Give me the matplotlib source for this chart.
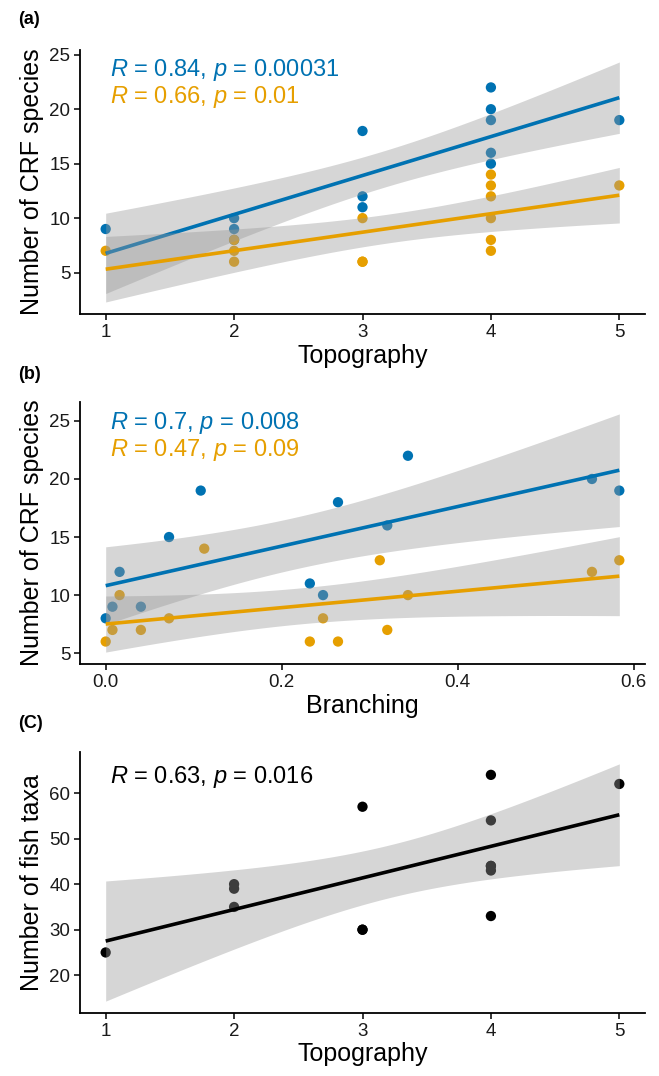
import numpy as np
import matplotlib
matplotlib.use("Agg")
import matplotlib.pyplot as plt

plt.rcParams['font.family'] = ['Liberation Sans', 'DejaVu Sans']
plt.rcParams['mathtext.fontset'] = 'custom'
plt.rcParams['mathtext.rm'] = 'Liberation Sans'
plt.rcParams['mathtext.it'] = 'Liberation Sans:italic'

# ---------------- data ----------------
# Panel (a): CRF species vs topography
topo_blue = [1, 2, 2, 2, 3, 3, 3, 4, 4, 4, 4, 4, 5]
crf_blue_topo = [9, 10, 9, 8, 18, 12, 11, 22, 20, 19, 16, 15, 19]
topo_orange = [1, 2, 2, 2, 3, 3, 3, 4, 4, 4, 4, 4, 4, 5]
crf_orange_topo = [7, 8, 7, 6, 10, 6, 6, 14, 13, 12, 10, 8, 7, 13]

# Panel (b): CRF species vs branching
branch_blue = [0.0, 0.0077, 0.0158, 0.040, 0.072, 0.108, 0.232, 0.247, 0.264,
               0.320, 0.3435, 0.5526, 0.5837]
crf_blue_branch = [8, 9, 12, 9, 15, 19, 11, 10, 18, 16, 22, 20, 19]
branch_orange = [0.0, 0.0077, 0.0158, 0.040, 0.072, 0.112, 0.232, 0.247, 0.264,
                 0.3115, 0.320, 0.3435, 0.5526, 0.5837]
crf_orange_branch = [6, 7, 10, 7, 8, 14, 6, 8, 6, 13, 7, 10, 12, 13]

# Panel (c): fish taxa vs topography
topo_fish = [1, 2, 2, 2, 3, 3, 3, 4, 4, 4, 4, 4, 4, 5]
fish_taxa = [25, 40, 39, 35, 57, 30, 30, 64, 54, 44, 44, 43, 33, 62]

labels_a = [r'$\it{R}$ = 0.84, $\it{p}$ = 0.00031', r'$\it{R}$ = 0.66, $\it{p}$ = 0.01']
labels_b = [r'$\it{R}$ = 0.7, $\it{p}$ = 0.008', r'$\it{R}$ = 0.47, $\it{p}$ = 0.09']
labels_c = [r'$\it{R}$ = 0.63, $\it{p}$ = 0.016']

BLUE = '#0072B2'
ORANGE = '#E69F00'
BLACK = '#000000'

T975 = {10: 2.2281, 11: 2.2010, 12: 2.1788}


def fit(x, y):
    x = np.asarray(x, float)
    y = np.asarray(y, float)
    n = len(x)
    b, a = np.polyfit(x, y, 1)
    xs = np.linspace(x.min(), x.max(), 100)
    yh = a + b * xs
    s = np.sqrt(np.sum((y - (a + b * x)) ** 2) / (n - 2))
    sxx = np.sum((x - x.mean()) ** 2)
    se = s * np.sqrt(1.0 / n + (xs - x.mean()) ** 2 / sxx)
    t = T975[n - 2]
    return xs, yh, yh - t * se, yh + t * se


def panel(ax, series, xticks, xticklabels, yticks, xlabel, ylabel, labels, label_y):
    lo, hi = [], []
    xlo, xhi = [], []
    # points first
    for x, y, c in series:
        ax.scatter(x, y, s=55, color=c, edgecolors='none', zorder=2)
    # smooth: ribbon + line per group
    z = 3
    for x, y, c in series:
        xs, yh, l, u = fit(x, y)
        ax.fill_between(xs, l, u, color='#999999', alpha=0.4, linewidth=0, zorder=z)
        ax.plot(xs, yh, color=c, lw=2.6, zorder=z + 0.5, solid_capstyle='butt')
        z += 1
        lo.append(min(l.min(), min(y)))
        hi.append(max(u.max(), max(y)))
        xlo.append(min(x))
        xhi.append(max(x))
    y0, y1 = min(lo), max(hi)
    x0, x1 = min(xlo), max(xhi)
    ax.set_ylim(y0 - 0.05 * (y1 - y0), y1 + 0.05 * (y1 - y0))
    ax.set_xlim(x0 - 0.05 * (x1 - x0), x1 + 0.05 * (x1 - x0))
    ax.set_xticks(xticks)
    ax.set_xticklabels(xticklabels)
    ax.set_yticks(yticks)
    ax.set_yticklabels([str(v) for v in yticks])
    for sp in ['top', 'right']:
        ax.spines[sp].set_visible(False)
    for sp in ['left', 'bottom']:
        ax.spines[sp].set_linewidth(1.3)
        ax.spines[sp].set_color('black')
    ax.tick_params(axis='both', length=4, width=1.1, color='black',
                   labelsize=13.5, labelcolor='#1a1a1a', pad=3)
    ax.set_xlabel(xlabel, fontsize=18, labelpad=2)
    ax.set_ylabel(ylabel, fontsize=18, labelpad=4)
    for (txt, c), yy in zip(labels, label_y):
        ax.text(0.053, yy, txt, transform=ax.transAxes, color=c, fontsize=17,
                ha='left', va='center')


fig = plt.figure(figsize=(6.59, 10.76), dpi=100)
L = 80 / 659
W = (645 - 80) / 659
H = 1076

ax_a = fig.add_axes([L, 1 - 314 / H, W, (314 - 50) / H])
ax_b = fig.add_axes([L, 1 - 664 / H, W, (664 - 402) / H])
ax_c = fig.add_axes([L, 1 - 1013 / H, W, (1013 - 752) / H])

panel(ax_a,
      [(topo_blue, crf_blue_topo, BLUE), (topo_orange, crf_orange_topo, ORANGE)],
      [1, 2, 3, 4, 5], ['1', '2', '3', '4', '5'], [5, 10, 15, 20, 25],
      'Topography', 'Number of CRF species',
      [(labels_a[0], BLUE), (labels_a[1], ORANGE)], [0.924, 0.822])

panel(ax_b,
      [(branch_blue, crf_blue_branch, BLUE), (branch_orange, crf_orange_branch, ORANGE)],
      [0.0, 0.2, 0.4, 0.6], ['0.0', '0.2', '0.4', '0.6'], [5, 10, 15, 20, 25],
      'Branching', 'Number of CRF species',
      [(labels_b[0], BLUE), (labels_b[1], ORANGE)], [0.92, 0.817])

panel(ax_c,
      [(topo_fish, fish_taxa, BLACK)],
      [1, 2, 3, 4, 5], ['1', '2', '3', '4', '5'], [20, 30, 40, 50, 60],
      'Topography', 'Number of fish taxa',
      [(labels_c[0], BLACK)], [0.904])

for txt, yy in [('(a)', 20), ('(b)', 374), ('(C)', 723)]:
    fig.text(18 / 659, 1 - yy / H, txt, fontsize=13, fontweight='bold',
             ha='left', va='center')

fig.savefig('out.png', dpi=100)
